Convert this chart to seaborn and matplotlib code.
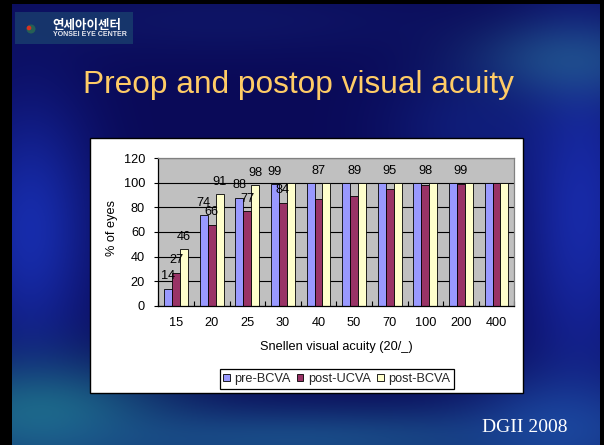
import numpy as np
import pandas as pd
import matplotlib
matplotlib.use("Agg")
import matplotlib.pyplot as plt
import seaborn as sns
from matplotlib.patches import Rectangle, Circle

# Snellen acuity categories (20/x) and share of eyes reaching each level
acuity = ["15", "20", "25", "30", "40", "50", "70", "100", "200", "400"]
pre_bcva = [14, 74, 88, 99, 100, 100, 100, 100, 100, 100]
post_ucva = [27, 66, 77, 84, 87, 89, 95, 98, 99, 100]
post_bcva = [46, 91, 98, 100, 100, 100, 100, 100, 100, 100]
series = ["pre-BCVA", "post-UCVA", "post-BCVA"]
y_ticks = [0, 20, 40, 60, 80, 100, 120]

colors = {"pre-BCVA": "#9999FF", "post-UCVA": "#993366", "post-BCVA": "#FFFFCC"}

W, H = 604, 445
sns.set_theme(style="white")
plt.rcParams["font.family"] = ["Liberation Sans", "DejaVu Sans"]

fig = plt.figure(figsize=(W / 100, H / 100), dpi=100)


def fbox(x0, y0, x1, y1):
    """Pixel box (origin top-left) -> figure-fraction rect."""
    return [x0 / W, 1 - y1 / H, (x1 - x0) / W, (y1 - y0) / H]


# ---- slide background: dark navy with soft blue / teal washes ----
yy, xx = np.mgrid[0:H, 0:W].astype(float)
img = np.ones((H, W, 3)) * np.array([10, 10, 88]) / 255.0
washes = [
    (30, 230, 45, 90, (25, 50, 185), 0.85),
    (580, 210, 45, 130, (25, 45, 175), 0.9),
    (40, 415, 90, 40, (30, 115, 140), 0.9),
    (300, 440, 220, 25, (30, 95, 150), 0.75),
    (565, 60, 70, 30, (40, 110, 150), 0.6),
    (560, 425, 70, 40, (30, 80, 170), 0.7),
    (220, 20, 160, 25, (20, 35, 120), 0.4),
    (470, 130, 60, 40, (20, 45, 150), 0.5),
]
for cx, cy, sx, sy, col, k in washes:
    w = k * np.exp(-(((xx - cx) / sx) ** 2 + ((yy - cy) / sy) ** 2) / 2)
    img = img * (1 - w[..., None]) + (np.array(col) / 255.0) * w[..., None]
img[:4, :, :] = 0
img[:, :12, :] = 0
img[:, 600:, :] = 0

bg = fig.add_axes([0, 0, 1, 1], zorder=0)
bg.imshow(img, extent=(0, W, H, 0), aspect="auto", interpolation="bilinear")
bg.set_xlim(0, W)
bg.set_ylim(H, 0)
bg.axis("off")

# logo block
bg.add_patch(Rectangle((15, 12), 118, 32, facecolor=(0.12, 0.32, 0.45), alpha=0.55, lw=0))
bg.add_patch(Circle((31, 29), 4.5, facecolor="#2a6a50", lw=0, alpha=0.8))
bg.add_patch(Circle((29, 28), 2.3, facecolor="#d83020", lw=0))
bg.text(52, 25, "연세아이센터", fontsize=9, fontweight="bold", color="white",
        family=["Noto Sans CJK KR", "DejaVu Sans"], ha="left", va="center")
bg.text(53, 34.5, "YONSEI EYE CENTER", fontsize=5.0, fontweight="bold", color="#e8e8f0",
        ha="left", va="center")

# slide title and footer
bg.text(83, 92.7, "Preop and postop visual acuity", fontsize=22.8, color="#FFCC66",
        ha="left", va="baseline")
bg.text(481.7, 431.7, "DGII 2008", fontsize=14, color="white",
        family=["Liberation Serif", "DejaVu Serif"], ha="left", va="baseline")

# white chart panel
bg.add_patch(Rectangle((90, 138), 432.7, 255.3, facecolor="white", edgecolor="black", lw=1.0))

# ---- bar chart ----
df = pd.DataFrame({
    "acuity": acuity * 3,
    "series": [series[0]] * len(acuity) + [series[1]] * len(acuity) + [series[2]] * len(acuity),
    "pct": pre_bcva + post_ucva + post_bcva,
})

ax = fig.add_axes(fbox(158.3, 158.3, 514.3, 305.7), zorder=2)
sns.barplot(data=df, x="acuity", y="pct", hue="series", order=acuity, hue_order=series,
            palette=colors, saturation=1, width=3 / 4.5, edgecolor="black", linewidth=0.6,
            errorbar=None, ax=ax)

ax.set_facecolor("#C0C0C0")
ax.set_xlim(-0.5, len(acuity) - 0.5)
ax.set_ylim(0, 120)
ax.set_yticks(y_ticks)
ax.set_yticklabels([str(t) for t in y_ticks])
ax.yaxis.grid(True, color="black", lw=0.8)
ax.xaxis.grid(False)
ax.set_axisbelow(True)
for side in ("top", "right"):
    ax.spines[side].set_color("#808080")
    ax.spines[side].set_linewidth(0.9)
for side in ("left", "bottom"):
    ax.spines[side].set_color("black")
    ax.spines[side].set_linewidth(0.9)

ax.set_xticks(np.arange(-0.5, len(acuity), 1), minor=True)
ax.tick_params(axis="x", which="major", bottom=True, length=0, pad=8.2, labelsize=9.2,
               labelcolor="black")
ax.tick_params(axis="x", which="minor", bottom=True, direction="in", length=3.5,
               width=0.8, color="black")
ax.tick_params(axis="y", which="major", left=True, direction="out", length=3, width=0.8,
               color="black", pad=6.5, labelsize=9.2, labelcolor="black")

ax.set_xlabel("Snellen visual acuity (20/_)", fontsize=9.2, color="black")
ax.set_ylabel("% of eyes", fontsize=9.2, color="black")
ax.xaxis.label.set_va("center")
ax.yaxis.label.set_va("center")
ax.xaxis.set_label_coords(0.5, -0.278)
ax.yaxis.set_label_coords(-0.131, 0.53)

# value labels above every bar below 100 %; a value squeezed between two full
# bars is lifted clear of them
values = [pre_bcva, post_ucva, post_bcva]
for s, cont in enumerate(ax.containers):
    for i, bar in enumerate(cont):
        v = values[s][i]
        if v >= 100:
            continue
        others = [values[o][i] for o in range(3) if o != s]
        y = 110 if all(o >= 100 for o in others) else v + 10
        ax.text(bar.get_x() + bar.get_width() / 2, y, f"{v:g}", ha="center", va="center",
                fontsize=9.2, color="black", zorder=5)

handles, labels = ax.get_legend_handles_labels()
if ax.get_legend() is not None:
    ax.get_legend().remove()
leg = fig.legend(handles, labels, ncol=3, loc="center",
                 bbox_to_anchor=(336.7 / W, 1 - 379.2 / H), frameon=True, fancybox=False,
                 edgecolor="black", framealpha=1, facecolor="white", fontsize=9.2,
                 handlelength=0.5, handleheight=0.5, handletextpad=0.35,
                 columnspacing=0.5, borderpad=0.3, borderaxespad=0)
leg.get_frame().set_linewidth(0.9)
leg.set_zorder(5)

fig.savefig("out.png", dpi=100)
